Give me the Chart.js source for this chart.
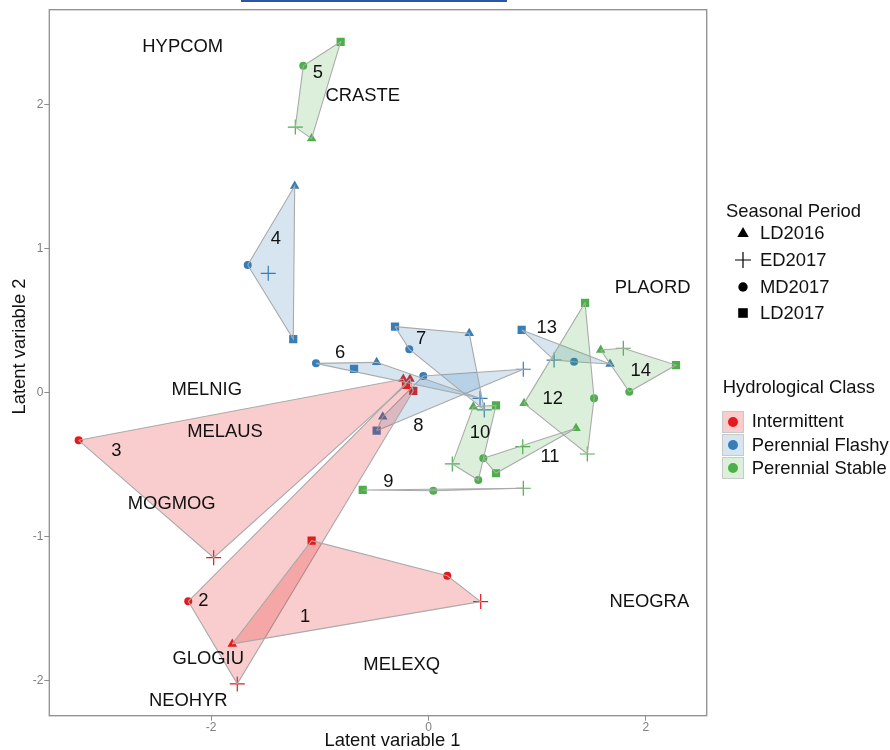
<!DOCTYPE html>
<html>
<head>
<meta charset="utf-8">
<script src="https://cdn.jsdelivr.net/npm/chart.js@4.4.1/dist/chart.umd.min.js"></script>
<style>
  body { margin: 0; background: #fff; font-family: "Liberation Sans", Arial, sans-serif; }
  #wrap { position: relative; width: 890px; height: 750px; overflow: hidden; }
  #link { position: absolute; left: 241px; top: 0; width: 266px; height: 2px; background: #2b56a8; }
  .leg { position: absolute; font-size: 18.4px; color: #111; line-height: 22px; white-space: nowrap; }
  .sw { position: absolute; width: 20px; height: 20px; border: 1px solid #c9c9c9; }
  .sw span { position: absolute; left: 5px; top: 5px; width: 10px; height: 10px; border-radius: 50%; }
  svg.shape { position: absolute; overflow: visible; }
</style>
</head>
<body>
<div id="wrap">
  <canvas id="chart" width="890" height="750"></canvas>
  <div id="link"></div>
</div>
<script>
// seasonal periods (one marker shape each) and hydrological classes
const periods = ["LD2016", "ED2017", "MD2017", "LD2017"];
const classNames = ["Intermittent", "Perennial Flashy", "Perennial Stable"];

// species groups 1..14 and their class
const groupIds = [1, 2, 3, 4, 5, 6, 7, 8, 9, 10, 11, 12, 13, 14];
const groupClass = [0, 0, 0, 1, 2, 1, 1, 1, 2, 2, 2, 2, 1, 2];

// site scores per period (latent variable 1 / 2), group order as above
const ld2016X = [-1.805, -0.170, -0.232, -1.231, -1.075, -0.477, 0.375, -0.421, null, 0.412, 1.357, 0.879, 1.670, 1.584];
const ld2016Y = [-1.746, 0.095, 0.095, 1.436, 1.766, 0.211, 0.413, -0.167, null, -0.097, -0.247, -0.074, 0.199, 0.297];
const ed2017X = [0.480, -1.759, -1.976, -1.474, -1.225, 0.474, 0.513, 0.872, 0.872, 0.219, 0.867, 1.461, 1.155, 1.792];
const ed2017Y = [-1.452, -2.024, -1.147, 0.830, 1.846, -0.039, -0.120, 0.163, -0.664, -0.495, -0.375, -0.426, 0.227, 0.309];
const md2017X = [0.173, -2.210, -3.218, -1.663, -1.152, -1.035, -0.177, -0.048, 0.044, 0.458, 0.504, 1.523, 1.339, 1.847];
const md2017Y = [-1.272, -1.450, -0.331, 0.887, 2.272, 0.204, 0.302, 0.116, -0.681, -0.607, -0.456, -0.039, 0.215, 0.007];
const ld2017X = [-1.075, -0.140, -0.207, -1.244, -0.808, -0.685, -0.308, -0.477, -0.605, 0.621, 0.621, 1.440, 0.857, 2.277];
const ld2017Y = [-1.028, 0.012, 0.054, 0.373, 2.439, 0.165, 0.459, -0.264, -0.676, -0.088, -0.560, 0.625, 0.436, 0.192];

// where the group numbers sit
const labelX = [-1.136, -2.072, -2.872, -1.403, -1.017, -0.814, -0.069, -0.094, -0.370, 0.474, 1.118, 1.143, 1.087, 1.952];
const labelY = [-1.561, -1.450, -0.405, 1.070, 2.220, 0.274, 0.371, -0.231, -0.618, -0.282, -0.449, -0.046, 0.448, 0.153];

// species names
const speciesNames = ["HYPCOM", "CRASTE", "MELNIG", "MELAUS", "MOGMOG", "GLOGIU", "NEOHYR", "MELEXQ", "NEOGRA", "PLAORD"];
const speciesX = [-2.261, -0.605, -2.040, -1.872, -2.362, -2.026, -2.210, -0.247, 2.031, 2.062];
const speciesY = [2.404, 2.064, 0.019, -0.271, -0.773, -1.853, -2.142, -1.892, -1.457, 0.726];

// axes
const xTicks = [-2, 0, 2];
const yTicks = [-2, -1, 0, 1, 2];
const xMin = -3.488, xMax = 2.559;
const yMin = -2.245, yMax = 2.662;

// styles
const classColors = ["#e41a1c", "#377eb8", "#4daf4a"];
const classFills = ["rgba(228,26,28,0.22)", "rgba(55,126,184,0.2)", "rgba(77,175,74,0.2)"];
const periodStyles = ["triangle", "cross", "circle", "rect"];
const periodRadius = [5.5, 7.5, 4, 5.8];

const periodX = [ld2016X, ed2017X, md2017X, ld2017X];
const periodY = [ld2016Y, ed2017Y, md2017Y, ld2017Y];

function hull(pts) {
  pts = pts.slice().sort((a, b) => a.x - b.x || a.y - b.y);
  const cross = (o, a, b) => (a.x - o.x) * (b.y - o.y) - (a.y - o.y) * (b.x - o.x);
  const lower = [], upper = [];
  for (const p of pts) {
    while (lower.length >= 2 && cross(lower[lower.length - 2], lower[lower.length - 1], p) <= 0) lower.pop();
    lower.push(p);
  }
  for (let i = pts.length - 1; i >= 0; i--) {
    const p = pts[i];
    while (upper.length >= 2 && cross(upper[upper.length - 2], upper[upper.length - 1], p) <= 0) upper.pop();
    upper.push(p);
  }
  upper.pop(); lower.pop();
  return lower.concat(upper);
}

const hullSets = groupIds.map((id, g) => {
  const pts = [];
  for (let p = 0; p < periods.length; p++) {
    if (periodX[p][g] !== null) pts.push({ x: periodX[p][g], y: periodY[p][g] });
  }
  const h = hull(pts);
  h.push(h[0]);
  return {
    type: "line",
    label: "group " + id,
    data: h,
    fill: "shape",
    backgroundColor: classFills[groupClass[g]],
    borderColor: "#aaaaaa",
    borderWidth: 1.1,
    pointRadius: 0,
    tension: 0,
    order: 1
  };
});

const pointSets = periods.map((name, p) => {
  const idx = groupIds.map((_, g) => g).filter(g => periodX[p][g] !== null);
  const cols = idx.map(g => classColors[groupClass[g]]);
  return {
    type: "scatter",
    label: name,
    data: idx.map(g => ({ x: periodX[p][g], y: periodY[p][g] })),
    pointStyle: periodStyles[p],
    pointRadius: periodRadius[p],
    backgroundColor: cols,
    borderColor: cols,
    borderWidth: p === 1 ? 1.2 : 0,
    order: 2
  };
});

const annotate = {
  id: "annotate",
  afterDatasetsDraw(chart) {
    const { ctx, chartArea: a, scales: { x, y } } = chart;
    ctx.save();
    ctx.strokeStyle = "#8e8e8e";
    ctx.lineWidth = 1.3;
    ctx.strokeRect(a.left, a.top, a.right - a.left, a.bottom - a.top);
    ctx.fillStyle = "#111";
    ctx.font = '18.4px "Liberation Sans", Arial, sans-serif';
    ctx.textAlign = "center";
    ctx.textBaseline = "middle";
    groupIds.forEach((id, i) => {
      ctx.fillText(String(id), x.getPixelForValue(labelX[i]), y.getPixelForValue(labelY[i]));
    });
    speciesNames.forEach((s, i) => {
      ctx.fillText(s, x.getPixelForValue(speciesX[i]), y.getPixelForValue(speciesY[i]));
    });
    ctx.fillText("Latent variable 1", 392.5, 741);
    ctx.translate(19.5, 346.5);
    ctx.rotate(-Math.PI / 2);
    ctx.fillText("Latent variable 2", 0, 0);
    ctx.restore();
  }
};

Chart.defaults.font.family = '"Liberation Sans", Arial, sans-serif';

new Chart("chart", {
  type: "scatter",
  data: { datasets: hullSets.concat(pointSets) },
  options: {
    responsive: false,
    animation: false,
    events: [],
    layout: { padding: { top: 9.7, right: 183.3, left: 0, bottom: 0 } },
    plugins: { legend: { display: false }, tooltip: { enabled: false } },
    scales: {
      x: {
        type: "linear",
        min: xMin,
        max: xMax,
        afterBuildTicks: s => { s.ticks = xTicks.map(v => ({ value: v })); },
        afterFit: s => { s.height = 34.3; },
        grid: { drawOnChartArea: false, drawTicks: true, tickLength: 5, color: "#8e8e8e" },
        border: { display: false },
        ticks: { color: "#7f7f7f", font: { size: 12 }, padding: 0, callback: v => String(v) }
      },
      y: {
        type: "linear",
        min: yMin,
        max: yMax,
        afterBuildTicks: s => { s.ticks = yTicks.map(v => ({ value: v })); },
        afterFit: s => { s.width = 49.3; },
        grid: { drawOnChartArea: false, drawTicks: true, tickLength: 5, color: "#8e8e8e" },
        border: { display: false },
        ticks: { color: "#7f7f7f", font: { size: 12 }, padding: 1, callback: v => String(v) }
      }
    }
  },
  plugins: [annotate]
});

// legends
const wrap = document.getElementById("wrap");
function addText(txt, left, cy) {
  const d = document.createElement("div");
  d.className = "leg";
  d.textContent = txt;
  d.style.left = left + "px";
  d.style.top = (cy - 11) + "px";
  wrap.appendChild(d);
}
const shapeSvg = [
  '<polygon points="0,-6 5.7,4 -5.7,4" fill="#000"/>',
  '<path d="M-8,0H8M0,-8V8" stroke="#000" stroke-width="1.2"/>',
  '<circle r="4.7" fill="#000"/>',
  '<rect x="-4.8" y="-4.8" width="9.6" height="9.6" fill="#000"/>'
];
addText("Seasonal Period", 726, 210.7);
const seasonY = [233.3, 260.3, 287, 313];
periods.forEach((p, i) => {
  const s = document.createElementNS("http://www.w3.org/2000/svg", "svg");
  s.setAttribute("class", "shape");
  s.setAttribute("width", "20");
  s.setAttribute("height", "20");
  s.setAttribute("viewBox", "-10 -10 20 20");
  s.style.left = (743.3 - 10) + "px";
  s.style.top = (seasonY[i] - 10) + "px";
  s.innerHTML = shapeSvg[i];
  wrap.appendChild(s);
  addText(p, 760, seasonY[i]);
});
addText("Hydrological Class", 722.7, 387.3);
classNames.forEach((c, i) => {
  const top = 410.7 + i * 23.3;
  const sw = document.createElement("div");
  sw.className = "sw";
  sw.style.left = "722px";
  sw.style.top = top + "px";
  sw.style.background = classFills[i];
  const dot = document.createElement("span");
  dot.style.background = classColors[i];
  sw.appendChild(dot);
  wrap.appendChild(sw);
  addText(c, 751.7, top + 10.5);
});
</script>
</body>
</html>
